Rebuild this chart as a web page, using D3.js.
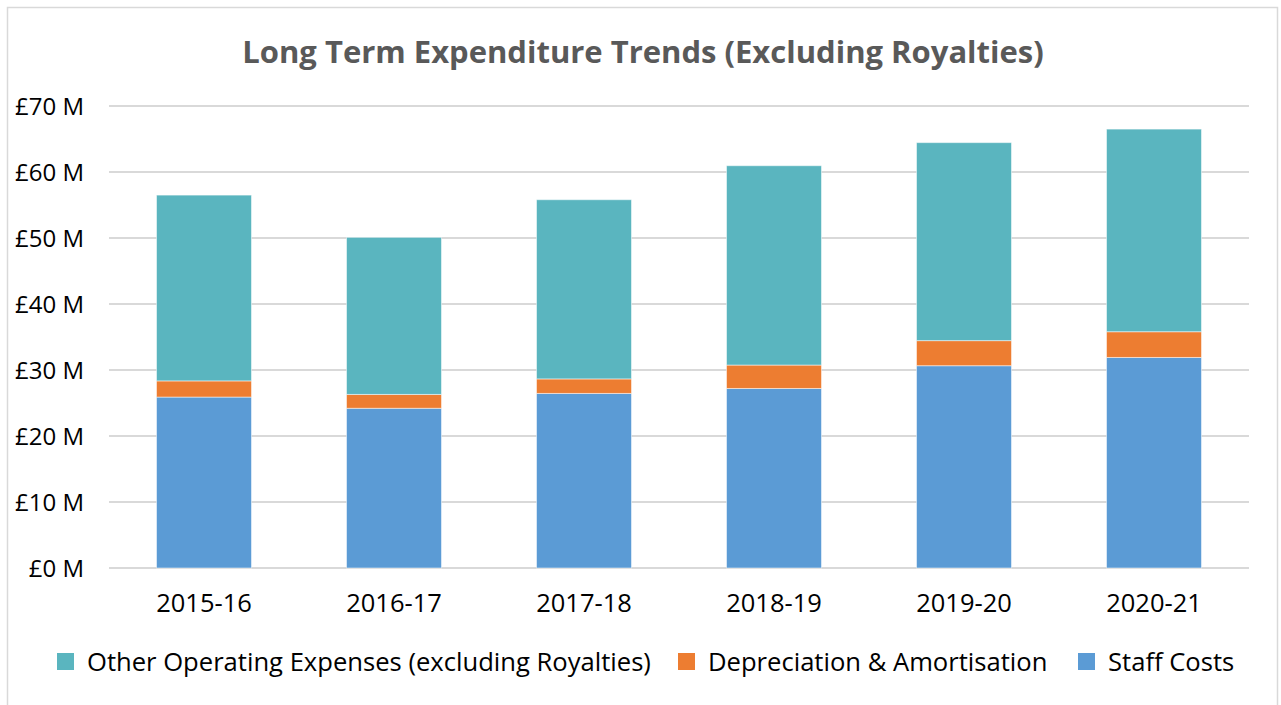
<!DOCTYPE html>
<html>
<head>
<meta charset="utf-8">
<script src="https://cdn.jsdelivr.net/npm/d3@7"></script>
<style>
  body { margin: 0; background: #fff; }
  svg { display: block; font-family: "Open Sans", "Noto Sans", sans-serif; }
  .title { font-size: 31px; font-weight: bold; fill: #595959; }
  .axis text { font-family: "Open Sans", "Noto Sans", sans-serif; font-size: 24px; fill: #000; }
  .axis.x-axis text { font-size: 25.5px; }
  .axis path, .axis line { display: none; }
  .grid line { stroke: #d9d9d9; stroke-width: 2; }
  .legend text { font-size: 25.6px; fill: #000; }
</style>
</head>
<body>
<svg id="chart"></svg>
<script>
// Data (values in £M)
const years = ['2015-16', '2016-17', '2017-18', '2018-19', '2019-20', '2020-21'];
const staffCosts = [25.9, 24.2, 26.45, 27.2, 30.65, 31.9];
const depreciation = [2.45, 2.1, 2.2, 3.55, 3.8, 3.9];
const otherExpenses = [28.15, 23.8, 27.15, 30.2, 30.0, 30.7];
const yTicks = [0, 10, 20, 30, 40, 50, 60, 70];

const seriesNames = ['Staff Costs', 'Depreciation & Amortisation', 'Other Operating Expenses (excluding Royalties)'];
const colors = ['#5b9bd5', '#ed7d31', '#5ab5bf'];

const W = 1281, H = 705;
const margin = { top: 106, right: 32, bottom: 137, left: 109 };
const svg = d3.select('#chart').attr('width', W).attr('height', H);

// outer chart border
svg.append('rect')
  .attr('x', 7.5).attr('y', 7.5)
  .attr('width', 1270).attr('height', 710)
  .attr('fill', 'none').attr('stroke', '#d9d9d9').attr('stroke-width', 1.5);

svg.append('text')
  .attr('class', 'title')
  .attr('x', 643).attr('y', 63)
  .attr('text-anchor', 'middle')
  .text('Long Term Expenditure Trends (Excluding Royalties)');

const x = d3.scaleBand()
  .domain(years)
  .range([margin.left, W - margin.right])
  .paddingInner(0.5).paddingOuter(0.25);

const y = d3.scaleLinear()
  .domain([0, 70])
  .range([H - margin.bottom, margin.top]);

// gridlines
svg.append('g')
  .attr('class', 'grid')
  .selectAll('line')
  .data(yTicks)
  .join('line')
  .attr('x1', margin.left).attr('x2', W - margin.right)
  .attr('y1', d => y(d)).attr('y2', d => y(d));

// stack
const rows = years.map((yr, i) => ({
  year: yr,
  'Staff Costs': staffCosts[i],
  'Depreciation & Amortisation': depreciation[i],
  'Other Operating Expenses (excluding Royalties)': otherExpenses[i]
}));
const stacked = d3.stack().keys(seriesNames)(rows);

svg.append('g')
  .selectAll('g')
  .data(stacked)
  .join('g')
  .attr('fill', (d, i) => colors[i])
  .selectAll('rect')
  .data(d => d)
  .join('rect')
  .attr('x', d => x(d.data.year))
  .attr('width', x.bandwidth())
  .attr('y', d => y(d[1]))
  .attr('height', d => y(d[0]) - y(d[1]))
  .attr('stroke', '#fff')
  .attr('stroke-opacity', 0.5)
  .attr('stroke-width', 1);

// axes
svg.append('g')
  .attr('class', 'axis')
  .attr('transform', `translate(${margin.left},0)`)
  .call(d3.axisLeft(y).tickValues(yTicks).tickSize(0).tickPadding(25).tickFormat(d => `£${d} M`))
  .selectAll('text').attr('dy', '0.35em');

svg.append('g')
  .attr('class', 'axis x-axis')
  .attr('transform', `translate(0,${H - margin.bottom})`)
  .call(d3.axisBottom(x).tickSize(0).tickPadding(26));

// legend
const legendItems = [
  { name: seriesNames[2], color: colors[2], x: 57 },
  { name: seriesNames[1], color: colors[1], x: 678 },
  { name: seriesNames[0], color: colors[0], x: 1078 }
];
const lg = svg.append('g').attr('class', 'legend')
  .selectAll('g')
  .data(legendItems)
  .join('g')
  .attr('transform', d => `translate(${d.x},662)`);
lg.append('rect')
  .attr('x', 0).attr('y', -9)
  .attr('width', 17).attr('height', 17)
  .attr('fill', d => d.color);
lg.append('text')
  .attr('x', 30).attr('dy', '0.35em')
  .text(d => d.name);
</script>
</body>
</html>
